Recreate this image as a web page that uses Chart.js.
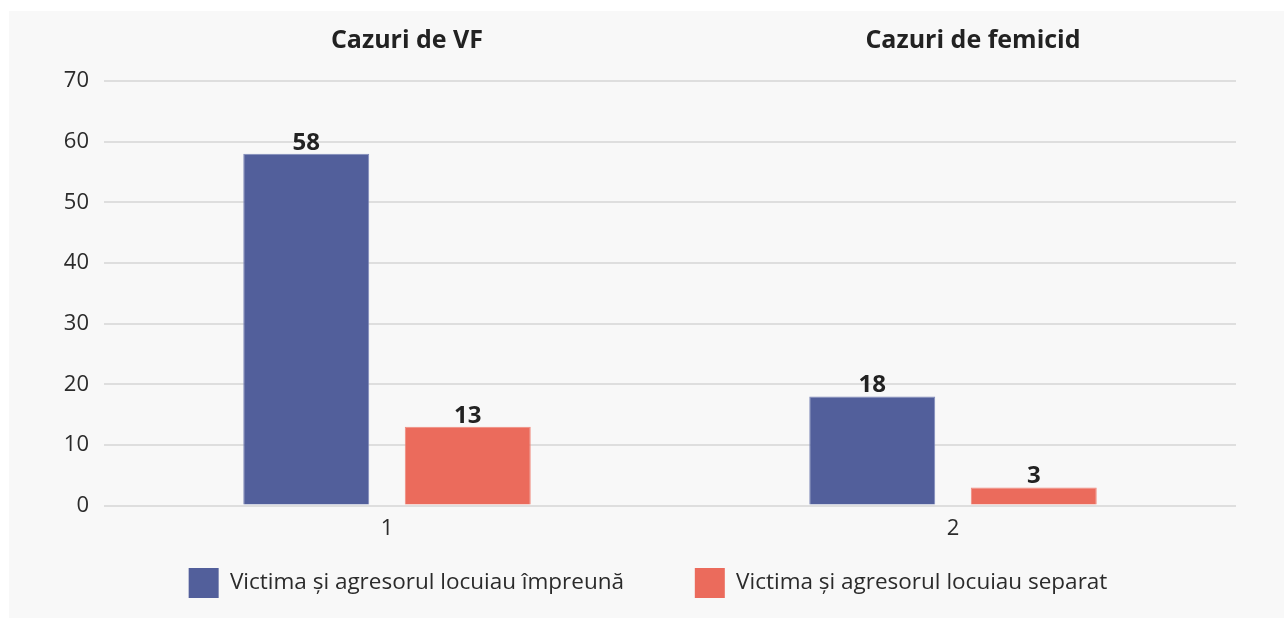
<!DOCTYPE html>
<html>
<head>
<meta charset="utf-8">
<script src="https://cdn.jsdelivr.net/npm/chart.js@4"></script>
<style>
  html, body { margin: 0; padding: 0; background: #fff; }
  #panel { position: absolute; left: 9px; top: 11px; width: 1275px; height: 607px; background: #f8f8f8; }
</style>
</head>
<body>
<div id="panel"><canvas id="grafic" width="1275" height="607"></canvas></div>
<script>
const categorii = ['1', '2'];
const titluriGrupuri = ['Cazuri de VF', 'Cazuri de femicid'];
const impreuna = [58, 18];
const separat = [13, 3];
const serii = ['Victima și agresorul locuiau împreună', 'Victima și agresorul locuiau separat'];

const fontFam = '"Open Sans", sans-serif';

// etichete cu valori deasupra barelor
const valoriPlugin = {
    id: 'valori',
    afterDatasetsDraw(chart) {
        const ctx = chart.ctx;
        ctx.save();
        ctx.font = 'bold 24px ' + fontFam;
        ctx.fillStyle = '#222';
        ctx.textAlign = 'center';
        ctx.textBaseline = 'alphabetic';
        chart.data.datasets.forEach(function(ds, i) {
            chart.getDatasetMeta(i).data.forEach(function(bar, j) {
                ctx.fillText(ds.data[j], bar.x, bar.y - 4);
            });
        });
        ctx.restore();
    }
};

// titlurile grupurilor deasupra graficului
const titluriPlugin = {
    id: 'titluri',
    afterDraw(chart) {
        const ctx = chart.ctx;
        const x = chart.scales.x;
        ctx.save();
        ctx.font = 'bold 25px ' + fontFam;
        ctx.fillStyle = '#222';
        ctx.textAlign = 'center';
        ctx.textBaseline = 'middle';
        titluriGrupuri.forEach(function(t, i) {
            ctx.fillText(t, x.getPixelForValue(i) + 20, 30);
        });
        ctx.restore();
    }
};

new Chart(document.getElementById('grafic'), {
    type: 'bar',
    data: {
        labels: categorii,
        datasets: [{
            label: serii[0],
            data: impreuna,
            backgroundColor: '#525f9b',
            borderColor: '#7f89b9',
            borderWidth: 1
        }, {
            label: serii[1],
            data: separat,
            backgroundColor: '#eb6b5c',
            borderColor: '#f0897d',
            borderWidth: 1
        }]
    },
    options: {
        responsive: false,
        animation: false,
        categoryPercentage: 0.5707,
        barPercentage: 0.78,
        layout: { padding: { left: 51, right: 48, top: 70, bottom: 10 } },
        plugins: {
            legend: {
                position: 'bottom',
                labels: {
                    boxWidth: 30,
                    boxHeight: 30,
                    padding: 24,
                    color: '#2b2b2b',
                    font: { family: fontFam, size: 22.5 },
                    // spatiu suplimentar dupa primul element
                    generateLabels(chart) {
                        const items = Chart.defaults.plugins.legend.labels.generateLabels(chart);
                        items[0].text = items[0].text + '        ';
                        items.forEach(function(it) { it.lineWidth = 0; });
                        return items;
                    }
                }
            },
            tooltip: { enabled: false }
        },
        scales: {
            x: {
                grid: { display: false },
                border: { display: false },
                ticks: { color: '#2b2b2b', padding: 2, font: { family: fontFam, size: 22 } }
            },
            y: {
                min: 0,
                max: 70,
                afterFit(scale) { scale.width = 44; },
                grid: { color: '#dedede', lineWidth: 2, drawTicks: false },
                border: { display: false },
                ticks: { stepSize: 10, color: '#2b2b2b', padding: 15, font: { family: fontFam, size: 22 } }
            }
        }
    },
    plugins: [valoriPlugin, titluriPlugin]
});
</script>
</body>
</html>
